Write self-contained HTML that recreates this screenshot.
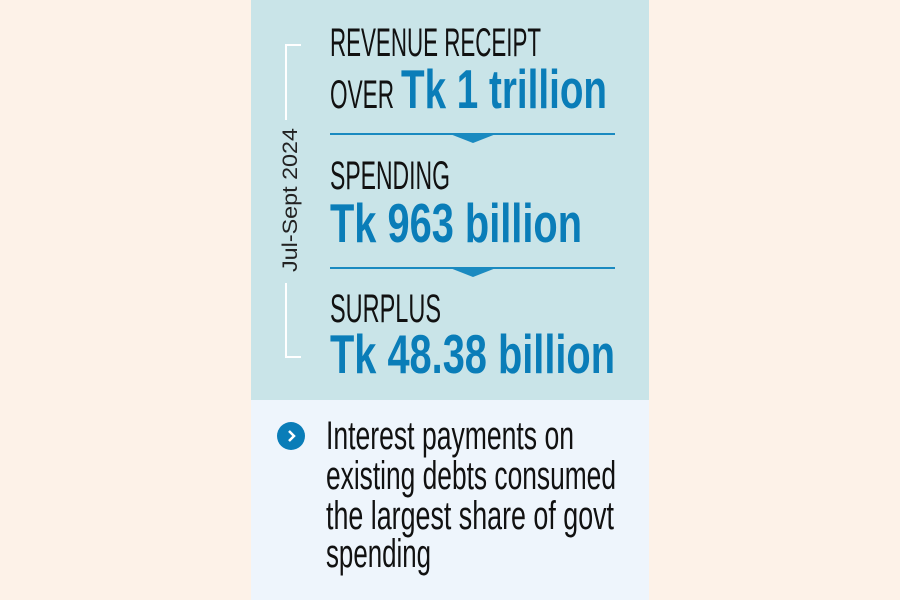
<!DOCTYPE html>
<html><head><meta charset="utf-8"><style>
html,body{margin:0;padding:0;background:#fdf2e8;}
svg{display:block}
text{font-family:"Liberation Sans",sans-serif;}
</style></head><body>
<svg width="900" height="600" viewBox="0 0 900 600" xmlns="http://www.w3.org/2000/svg">
<rect width="900" height="600" fill="#fdf2e8"/>
<rect x="251" y="0" width="398" height="400" fill="#c9e4e8"/>
<rect x="251" y="400" width="398" height="200" fill="#eef5fc"/>
<path d="M301 45 H286 V120 M286 283 V357 H301" stroke="#fff" stroke-width="2" fill="none"/>
<text x="0" y="0" transform="translate(297,272) rotate(-90)" font-size="21" textLength="144" lengthAdjust="spacingAndGlyphs" fill="#222">Jul-Sept 2024</text>
<text x="330" y="56" font-size="40" textLength="211" lengthAdjust="spacingAndGlyphs" fill="#111">REVENUE RECEIPT</text>
<text x="330" y="108" font-size="40" textLength="64" lengthAdjust="spacingAndGlyphs" fill="#111">OVER</text>
<text x="401" y="108" font-size="55" font-weight="bold" textLength="206" lengthAdjust="spacingAndGlyphs" fill="#0a7db8">Tk 1 trillion</text>
<line x1="330" y1="134" x2="615" y2="134" stroke="#1a8ac0" stroke-width="2"/>
<path d="M450 134 H496 L473 143 Z" fill="#1a8ac0"/>
<text x="330" y="189" font-size="40" textLength="120" lengthAdjust="spacingAndGlyphs" fill="#111">SPENDING</text>
<text x="330" y="242" font-size="55" font-weight="bold" textLength="252" lengthAdjust="spacingAndGlyphs" fill="#0a7db8">Tk 963 billion</text>
<line x1="330" y1="268" x2="615" y2="268" stroke="#1a8ac0" stroke-width="2"/>
<path d="M450 268 H496 L473 277 Z" fill="#1a8ac0"/>
<text x="330" y="322" font-size="40" textLength="111" lengthAdjust="spacingAndGlyphs" fill="#111">SURPLUS</text>
<text x="330" y="373" font-size="55" font-weight="bold" textLength="285" lengthAdjust="spacingAndGlyphs" fill="#0a7db8">Tk 48.38 billion</text>
<circle cx="291" cy="436" r="14" fill="#0a7db8"/>
<path d="M289 431 L294 436 L289 441" stroke="#fff" stroke-width="2.5" fill="none"/>
<text x="326" y="449" font-size="40" textLength="248" lengthAdjust="spacingAndGlyphs" fill="#111">Interest payments on</text>
<text x="326" y="489" font-size="40" textLength="290" lengthAdjust="spacingAndGlyphs" fill="#111">existing debts consumed</text>
<text x="326" y="529" font-size="40" textLength="288" lengthAdjust="spacingAndGlyphs" fill="#111">the largest share of govt</text>
<text x="326" y="567" font-size="40" textLength="105" lengthAdjust="spacingAndGlyphs" fill="#111">spending</text>
</svg>
</body></html>
